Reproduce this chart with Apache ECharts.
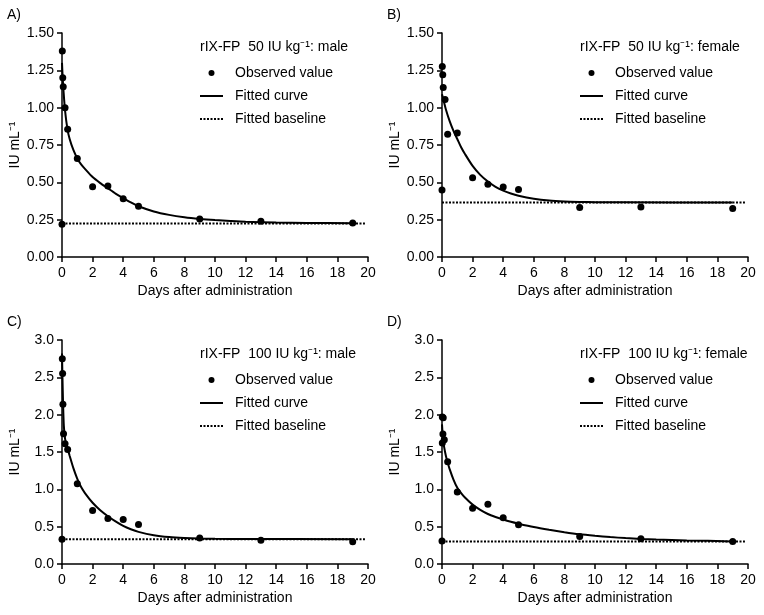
<!DOCTYPE html>
<html>
<head>
<meta charset="utf-8">
<script src="https://cdn.jsdelivr.net/npm/echarts@6/dist/echarts.min.js"></script>
<style>html,body{margin:0;padding:0;background:#fff}#c{width:764px;height:615px}</style>
</head>
<body>
<div id="c"></div>
<script>
// ---- data ----
var panelLabels = ['A)', 'B)', 'C)', 'D)'];
var legendTitles = ['rIX-FP  50 IU kg\u207B\u00B9: male', 'rIX-FP  50 IU kg\u207B\u00B9: female',
                    'rIX-FP  100 IU kg\u207B\u00B9: male', 'rIX-FP  100 IU kg\u207B\u00B9: female'];
var xTicks = [0, 2, 4, 6, 8, 10, 12, 14, 16, 18, 20];
var yMaxes = [1.5, 1.5, 3.0, 3.0];
var yIntervals = [0.25, 0.25, 0.5, 0.5];

var obsA = [[0,0.22],[0.02,1.38],[0.05,1.20],[0.08,1.14],[0.2,1.00],[0.37,0.855],[1,0.66],[2,0.47],[3,0.475],[4,0.39],[5,0.34],[9,0.255],[13,0.24],[19,0.228]];
var obsB = [[0,0.448],[0.02,1.275],[0.05,1.22],[0.08,1.135],[0.2,1.055],[0.37,0.822],[1,0.83],[2,0.53],[3,0.488],[4,0.468],[5,0.452],[9,0.332],[13,0.335],[19,0.324]];
var obsC = [[0,0.33],[0.02,2.75],[0.04,2.55],[0.06,2.14],[0.1,1.745],[0.2,1.61],[0.37,1.535],[1,1.075],[2,0.715],[3,0.61],[4,0.595],[5,0.53],[9,0.348],[13,0.318],[19,0.298]];
var obsD = [[0,0.307],[0.02,1.97],[0.08,1.96],[0.06,1.74],[0.15,1.665],[0.02,1.62],[0.37,1.37],[1,0.965],[2,0.745],[3,0.80],[4,0.618],[5,0.524],[9,0.368],[13,0.337],[19,0.30]];

var fitA = [[0,1.30],[0.05,1.19],[0.1,1.11],[0.2,0.98],[0.35,0.86],[0.5,0.79],[0.75,0.715],[1,0.66],[1.25,0.62],[1.5,0.59],[2,0.535],[2.5,0.495],[3,0.46],[3.5,0.425],[4,0.395],[4.5,0.365],[5,0.34],[6,0.305],[7,0.282],[8,0.266],[9,0.255],[10,0.247],[11,0.241],[12,0.236],[14,0.231],[16,0.228],[19,0.226]];
var fitB = [[0,1.09],[0.1,1.05],[0.25,0.99],[0.5,0.91],[0.75,0.845],[1,0.79],[1.25,0.735],[1.5,0.69],[2,0.61],[2.5,0.55],[3,0.505],[3.5,0.47],[4,0.445],[4.5,0.425],[5,0.41],[6,0.39],[7,0.378],[8,0.372],[9,0.369],[10,0.367],[12,0.366],[19,0.365]];
var fitC = [[0,2.82],[0.03,2.5],[0.07,2.15],[0.12,1.85],[0.2,1.68],[0.3,1.59],[0.4,1.52],[0.5,1.45],[0.75,1.28],[1,1.14],[1.25,1.03],[1.5,0.95],[2,0.82],[2.5,0.72],[3,0.64],[3.5,0.57],[4,0.51],[4.5,0.465],[5,0.43],[6,0.385],[7,0.36],[8,0.347],[9,0.34],[10,0.337],[12,0.334],[19,0.333]];
var fitD = [[0,1.87],[0.05,1.72],[0.1,1.62],[0.2,1.5],[0.3,1.41],[0.4,1.34],[0.5,1.27],[0.75,1.13],[1,1.02],[1.25,0.95],[1.5,0.89],[2,0.795],[2.5,0.725],[3,0.67],[3.5,0.63],[4,0.595],[4.5,0.565],[5,0.54],[6,0.495],[7,0.458],[8,0.425],[9,0.397],[10,0.377],[11,0.36],[12,0.347],[13,0.336],[14,0.328],[16,0.316],[19,0.303]];

var baseA = [[0,0.225],[19.8,0.225]];
var baseB = [[0,0.365],[19.8,0.365]];
var baseC = [[0,0.333],[19.8,0.333]];
var baseD = [[0,0.30],[19.8,0.30]];

var observed = [obsA, obsB, obsC, obsD];
var fitted = [fitA, fitB, fitC, fitD];
var baselines = [baseA, baseB, baseC, baseD];

// ---- layout ----
var FONT = 'Liberation Sans, Arial, Helvetica, sans-serif';
var lefts = [62, 442, 62, 442];
var tops = [33, 33, 340, 340];
var legendLefts = [200, 580, 200, 580];
var labelLefts = [7, 387, 7, 387];

var solidIcon = 'path://M0,0h23v2h-23z';
var dottedIcon = 'path://M0,0h2v2h-2z M3.5,0h2v2h-2z M7,0h2v2h-2z M10.5,0h2v2h-2z M14,0h2v2h-2z M17.5,0h2v2h-2z M21,0h2v2h-2z';

var grids = [], xAxes = [], yAxes = [], series = [], titles = [], legends = [];
for (var i = 0; i < 4; i++) {
  grids.push({left: lefts[i], top: tops[i], width: 306, height: 224});
  xAxes.push({
    type: 'value', gridIndex: i, min: 0, max: 20, interval: 2,
    axisLine: {show: true, lineStyle: {color: '#000', width: 1.5}},
    axisTick: {show: true, length: 5, lineStyle: {color: '#000', width: 1.5}},
    axisLabel: {color: '#000', fontSize: 14, fontFamily: FONT, margin: 9},
    splitLine: {show: false},
    name: 'Days after administration', nameLocation: 'middle', nameGap: 27,
    nameTextStyle: {color: '#000', fontSize: 14, fontFamily: FONT}
  });
  (function (dec) {
    yAxes.push({
      type: 'value', gridIndex: i, min: 0, max: yMaxes[i], interval: yIntervals[i],
      axisLine: {show: true, lineStyle: {color: '#000', width: 1.5}},
      axisTick: {show: true, length: 5, lineStyle: {color: '#000', width: 1.5}},
      axisLabel: {color: '#000', fontSize: 14, fontFamily: FONT, margin: 8,
                  formatter: function (v) { return v.toFixed(dec); }},
      splitLine: {show: false},
      name: 'IU mL\u207B\u00B9', nameLocation: 'middle', nameGap: 40,
      nameTextStyle: {color: '#000', fontSize: 14, fontFamily: FONT}
    });
  })(i < 2 ? 2 : 1);

  series.push({
    name: 'Fitted baseline', type: 'line', xAxisIndex: i, yAxisIndex: i,
    data: baselines[i], symbol: 'none', silent: true,
    lineStyle: {color: '#000', width: 2, type: [2, 1.5]}, itemStyle: {color: '#000'}
  });
  series.push({
    name: 'Fitted curve', type: 'line', xAxisIndex: i, yAxisIndex: i,
    data: fitted[i], symbol: 'none', smooth: 0.25, silent: true,
    lineStyle: {color: '#000', width: 2}, itemStyle: {color: '#000'}
  });
  series.push({
    name: 'Observed value', type: 'scatter', xAxisIndex: i, yAxisIndex: i,
    data: observed[i], symbol: 'circle', symbolSize: 7, clip: false, silent: true,
    itemStyle: {color: '#000', opacity: 1}, z: 5
  });

  titles.push({text: panelLabels[i], left: labelLefts[i], top: tops[i] - 25, padding: 0,
    textStyle: {color: '#000', fontSize: 14, fontWeight: 'normal', fontFamily: FONT}});
  titles.push({text: legendTitles[i], left: legendLefts[i], top: tops[i] + 7, padding: 0,
    textStyle: {color: '#000', fontSize: 14, fontWeight: 'normal', fontFamily: FONT}});
  legends.push({
    left: legendLefts[i], top: tops[i] + 32, orient: 'vertical',
    itemWidth: 23, itemHeight: 6, itemGap: 7, selectedMode: false,
    padding: 0,
    textStyle: {color: '#000', fontSize: 14, fontFamily: FONT, lineHeight: 16, padding: [0, 0, 0, 7]},
    data: [
      {name: 'Observed value', icon: 'circle', itemStyle: {color: '#000', opacity: 1}},
      {name: 'Fitted curve', icon: solidIcon, itemStyle: {color: '#000', opacity: 1}},
      {name: 'Fitted baseline', icon: dottedIcon, itemStyle: {color: '#000', opacity: 1}}
    ]
  });
}

var chart = echarts.init(document.getElementById('c'), null, {renderer: 'canvas'});
chart.setOption({
  backgroundColor: '#fff',
  animation: false,
  title: titles,
  legend: legends,
  grid: grids,
  xAxis: xAxes,
  yAxis: yAxes,
  series: series
});
</script>
</body>
</html>
